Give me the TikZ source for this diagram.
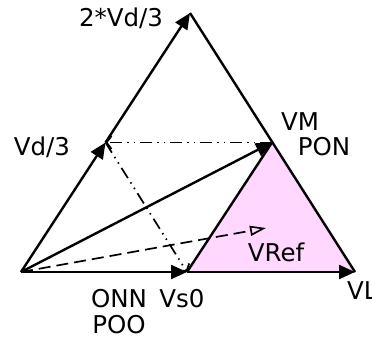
\documentclass[tikz,border=0pt]{standalone}
\usepackage{fontspec}
\setmainfont{DejaVu Sans}
\usetikzlibrary{arrows.meta}
\definecolor{pinkfill}{RGB}{255,215,255}
\tikzset{
  vec/.style={line width=2.4pt, -{Triangle[length=16pt,width=14pt]}},
  edge/.style={line width=2.4pt},
  ddot/.style={line width=1.7pt, dash pattern=on 12pt off 5pt on 1.5pt off 5pt on 1.5pt off 5pt, -{Straight Barb[length=5pt,width=13pt]}},
  refv/.style={line width=1.7pt, dash pattern=on 12pt off 6pt, -{Triangle[open,length=16pt,width=10pt]}},
  lbl/.style={font=\fontsize{24.5pt}{26pt}\selectfont, inner sep=0pt}
}
\begin{document}
\begin{tikzpicture}[x=1pt,y=-1pt]
\useasboundingbox (0,0) rectangle (372,341);
\coordinate (O) at (21,272);
\coordinate (S) at (187,272);
\coordinate (L) at (355,272);
\coordinate (T) at (190,13);
\coordinate (A) at (105.5,142.5);
\coordinate (M) at (272,142.5);
\coordinate (R) at (266,228);
\fill[pinkfill] (S) -- (L) -- (M) -- cycle;
\draw[edge] (T) -- (L);
\draw[edge] (S) -- (M);
\draw[ddot] (M) -- (A);
\draw[ddot] (A) -- (S);
\draw[refv] (O) -- (R);
\draw[vec] (O) -- (S);
\draw[vec] (S) -- (L);
\draw[vec] (O) -- (A);
\draw[vec] (A) -- (T);
\draw[vec] (O) -- (M);
\node[lbl] (t2) at (121,18) {2*Vd/3};
\node[lbl] (t1) at (42,147) {Vd/3};
\node[lbl] (vm) at (300,122) {VM};
\node[lbl] (pon) at (324,147) {PON};
\node[lbl] (vref) at (276,252) {VRef};
\node[lbl, anchor=west] (vl) at (347,291) {VL};
\node[lbl] (onn) at (119,299) {ONN};
\node[lbl] (vs0) at (182,299) {Vs0};
\node[lbl] (poo) at (119,325) {POO};
\end{tikzpicture}
\end{document}
